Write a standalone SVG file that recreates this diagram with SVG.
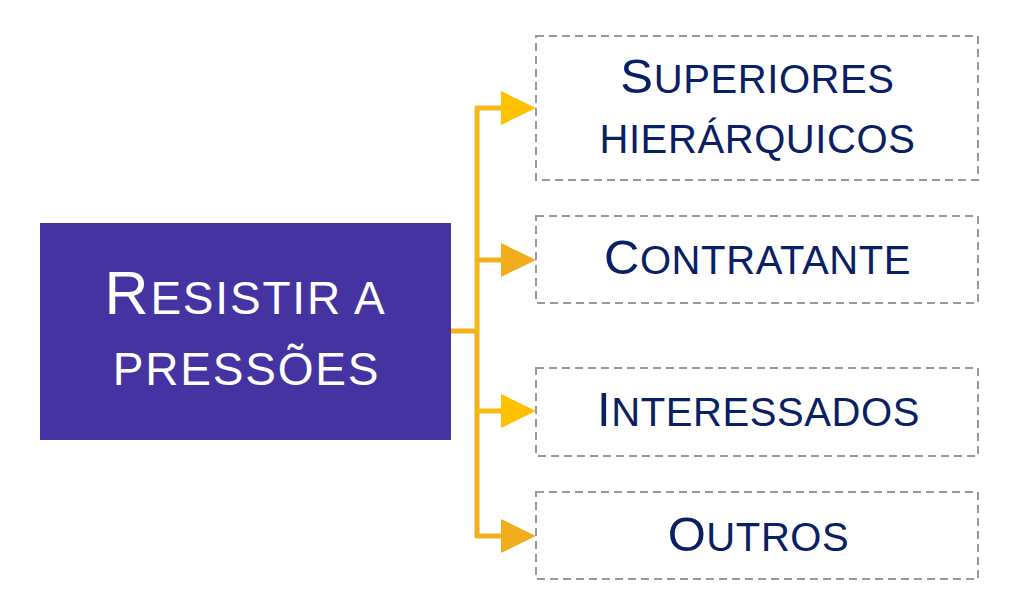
<svg xmlns="http://www.w3.org/2000/svg" width="1014" height="616" viewBox="0 0 1014 616">
  <style>
    .box { fill: #FFFFFF; stroke: #999999; stroke-width: 2; stroke-dasharray: 8 5; }
    .lbl { font-family: "Liberation Sans", Arial, sans-serif; fill: #0A2064; text-anchor: middle; letter-spacing: 0.6px; }
    .big { font-size: 49px; }
    .sm { font-size: 40px; }
    .main { font-family: "Liberation Sans", Arial, sans-serif; fill: #FFFFFF; text-anchor: middle; letter-spacing: 1.8px; }
    .conn { fill: none; stroke-width: 5; stroke-linejoin: round; stroke-linecap: butt; }
  </style>
  <defs>
    <marker id="arrY" markerUnits="userSpaceOnUse" markerWidth="36" markerHeight="36" viewBox="0 0 36 36" refX="0" refY="18" orient="auto">
      <polygon points="0,1 35,18 0,35" fill="#FFC000"/>
    </marker>
    <marker id="arrO" markerUnits="userSpaceOnUse" markerWidth="36" markerHeight="36" viewBox="0 0 36 36" refX="0" refY="18" orient="auto">
      <polygon points="0,1 35,18 0,35" fill="#F2AC1C"/>
    </marker>
  </defs>

  <g id="connectors">
    <path class="conn" stroke="#F5B21A" d="M451,331 H477"/>
    <path class="conn" stroke="#F7B818" d="M477,331 V108 H501" marker-end="url(#arrY)"/>
    <path class="conn" stroke="#F3AE1C" d="M477,331 V536 H501" marker-end="url(#arrO)"/>
    <path class="conn" stroke="#F3AE1C" d="M477,260 H501" marker-end="url(#arrO)"/>
    <path class="conn" stroke="#FBBC10" d="M477,411 H501" marker-end="url(#arrY)"/>
  </g>

  <g id="node-main">
    <rect x="40" y="223" width="411" height="217" fill="#4433A0"/>
    <text class="main" x="245.5" y="314"><tspan font-size="61">R</tspan><tspan font-size="46">ESISTIR A</tspan></text>
    <text class="main" x="246.5" y="385" font-size="46">PRESSÕES</text>
  </g>

  <g id="node-superiores">
    <rect class="box" x="536" y="36" width="442" height="144"/>
    <text class="lbl" x="757.5" y="93"><tspan class="big">S</tspan><tspan class="sm">UPERIORES</tspan></text>
    <text class="lbl sm" x="757.5" y="153">HIERÁRQUICOS</text>
  </g>

  <g id="node-contratante">
    <rect class="box" x="536" y="216" width="442" height="87"/>
    <text class="lbl" x="757.5" y="274"><tspan class="big">C</tspan><tspan class="sm">ONTRATANTE</tspan></text>
  </g>

  <g id="node-interessados">
    <rect class="box" x="536" y="368" width="442" height="88"/>
    <text class="lbl" x="758.5" y="426"><tspan class="big">I</tspan><tspan class="sm">NTERESSADOS</tspan></text>
  </g>

  <g id="node-outros">
    <rect class="box" x="536" y="492" width="442" height="87"/>
    <text class="lbl" x="758.5" y="551"><tspan class="big">O</tspan><tspan class="sm">UTROS</tspan></text>
  </g>
</svg>
